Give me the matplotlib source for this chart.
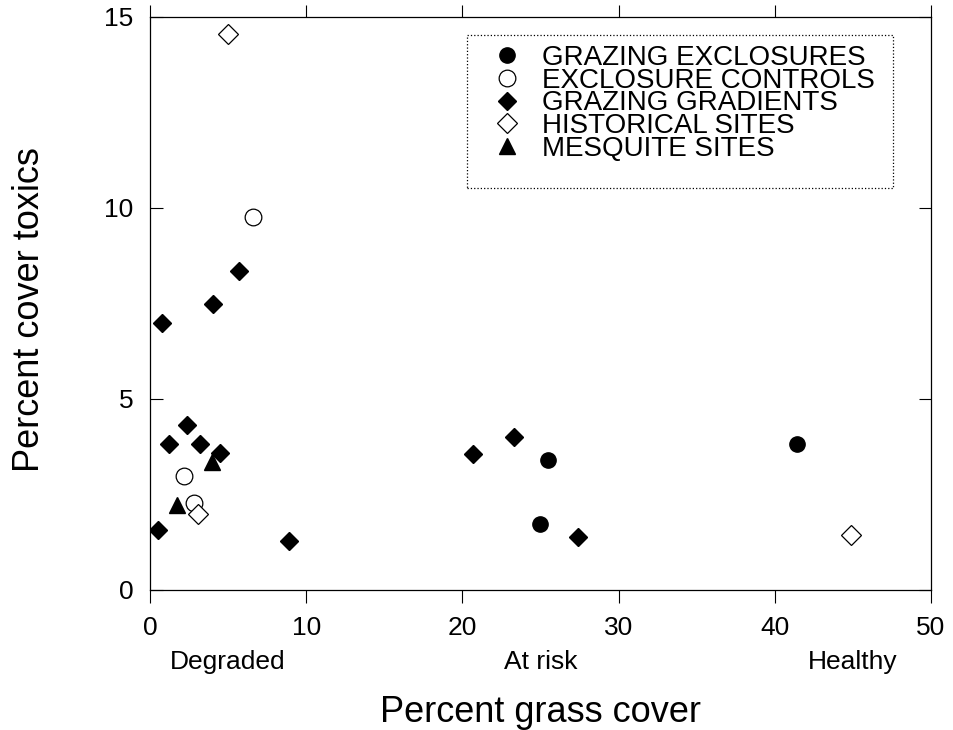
import matplotlib
matplotlib.use("Agg")
import matplotlib.pyplot as plt
import matplotlib.transforms as mtransforms
from matplotlib.patches import Rectangle

plt.rcParams['font.family'] = ['Liberation Sans', 'DejaVu Sans']

# Percent grass cover (x) and percent cover toxics (y) per site type
excl_x = [25.5, 25.0, 41.4]
excl_y = [3.40, 1.72, 3.82]

ctrl_x = [6.6, 2.2, 2.8]
ctrl_y = [9.77, 2.98, 2.29]

grad_x = [5.7, 4.05, 0.8, 2.4, 1.2, 3.2, 4.5, 0.5, 8.9, 20.7, 23.3, 27.4]
grad_y = [8.36, 7.49, 7.0, 4.32, 3.82, 3.82, 3.58, 1.57, 1.29, 3.55, 4.0, 1.38]

hist_x = [5.0, 3.1, 44.9]
hist_y = [14.55, 1.98, 1.45]

mesq_x = [3.95, 1.75]
mesq_y = [3.36, 2.22]

class_pos = [5, 25, 45]
class_labels = ['Degraded', 'At risk', 'Healthy']

fig = plt.figure(figsize=(9.54, 7.3), dpi=100)
ax = fig.add_axes([0.1572, 0.1918, 0.8187, 0.785])

ax.plot(excl_x, excl_y, 'o', color='black', ms=11, ls='none',
        label='GRAZING EXCLOSURES')
ax.plot(ctrl_x, ctrl_y, 'o', mfc='white', mec='black', mew=0.9, ms=12,
        ls='none', label='EXCLOSURE CONTROLS')
ax.plot(grad_x, grad_y, 'D', color='black', ms=9.5, ls='none',
        label='GRAZING GRADIENTS')
ax.plot(hist_x, hist_y, 'D', mfc='white', mec='black', mew=0.9, ms=10,
        ls='none', label='HISTORICAL SITES')
ax.plot(mesq_x, mesq_y, '^', color='black', ms=12, ls='none',
        label='MESQUITE SITES')

ax.set_xlim(0, 50)
ax.set_ylim(0, 15)
ax.set_xticks([0, 10, 20, 30, 40, 50])
ax.set_yticks([0, 5, 10, 15])

ax.tick_params(axis='x', direction='out', top=True, length=9, width=0.8,
               labelsize=19, pad=10)
ax.tick_params(axis='y', direction='in', right=True, length=9, width=0.8,
               labelsize=19, pad=12)
for sp in ax.spines.values():
    sp.set_linewidth(0.9)

# condition classes under the tick labels
trans = mtransforms.blended_transform_factory(ax.transData, ax.transAxes)
for xp, lab in zip(class_pos, class_labels):
    ax.text(xp, -0.125, lab, transform=trans, ha='center', va='center',
            fontsize=19)

ax.set_xlabel('Percent grass cover', fontsize=26, va='center')
ax.xaxis.set_label_coords(0.5, -0.213)
ax.set_ylabel('Percent cover toxics', fontsize=26, va='center')
ax.yaxis.set_label_coords(-0.154, 0.49)

# legend entries without frame; dotted box drawn separately
leg = ax.legend(loc='upper left', bbox_to_anchor=(0.443, 0.951),
                borderaxespad=0, borderpad=0, fontsize=20,
                labelspacing=-0.12, handlelength=0.8, handletextpad=0.86,
                frameon=False)
box = Rectangle((0.406, 0.7016), 0.545, 0.267, transform=ax.transAxes,
                fill=False, ls=':', lw=0.9, ec='black', zorder=5)
ax.add_patch(box)

fig.savefig('out.png', dpi=100)
